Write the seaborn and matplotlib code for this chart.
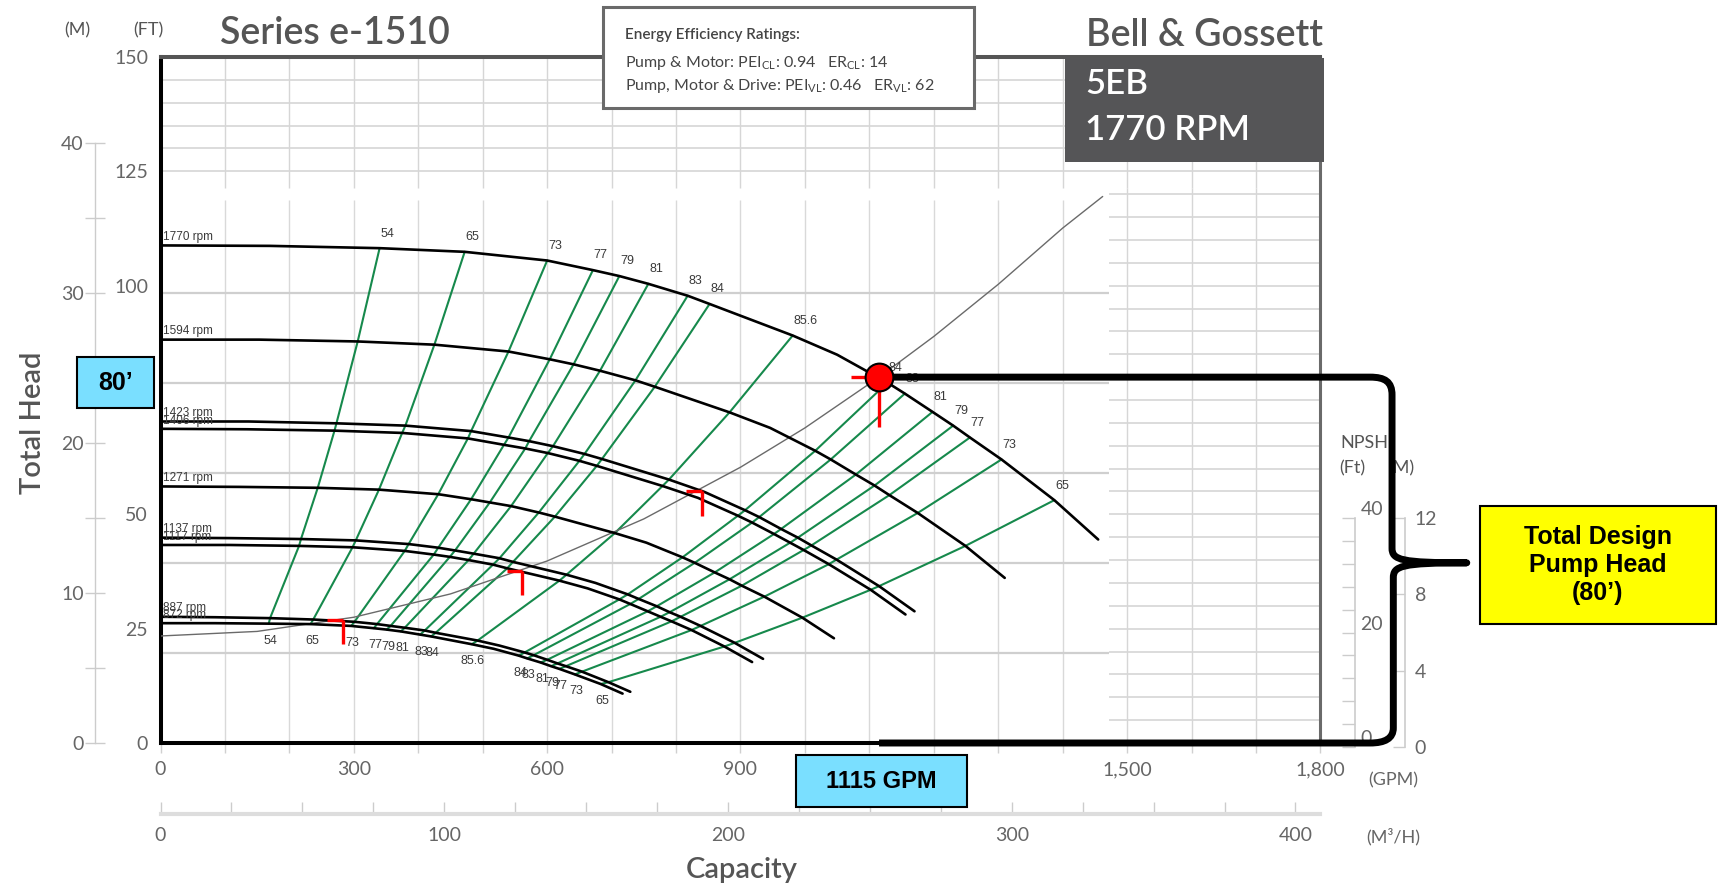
import numpy as np
import pandas as pd
import matplotlib
matplotlib.use("Agg")
import matplotlib.pyplot as plt
import seaborn as sns
from matplotlib.path import Path
from matplotlib.patches import PathPatch, Rectangle
from matplotlib import font_manager as fm
from matplotlib.ticker import FixedLocator

# ---------------- data ----------------
speeds = [1770, 1594, 1423, 1406, 1271, 1137, 1117, 887, 872]

gpm_1770 = [0, 170, 340, 472, 600, 671, 712, 757, 818, 852, 981, 1050, 1128, 1155, 1198, 1230, 1256, 1305, 1387, 1455]
ft_1770 = [108.8, 108.7, 108.2, 107.4, 105.5, 103.4, 102.1, 100.4, 97.8, 96.0, 89.1, 84.9, 78.8, 76.4, 72.4, 69.4, 66.8, 62.0, 53.1, 44.5]
gpm_1594 = [0, 153, 306, 425, 540, 604, 641, 682, 737, 767, 883, 946, 1016, 1040, 1079, 1108, 1131, 1175, 1249, 1310]
ft_1594 = [88.2, 88.2, 87.8, 87.1, 85.6, 83.9, 82.8, 81.4, 79.3, 77.9, 72.3, 68.9, 63.9, 62.0, 58.7, 56.3, 54.2, 50.3, 43.1, 36.1]
gpm_1423 = [0, 137, 273, 380, 482, 540, 572, 609, 658, 685, 789, 844, 907, 929, 963, 989, 1010, 1049, 1115, 1170]
ft_1423 = [70.3, 70.3, 69.9, 69.4, 68.2, 66.8, 66.0, 64.9, 63.2, 62.1, 57.6, 54.9, 50.9, 49.4, 46.8, 44.9, 43.2, 40.1, 34.3, 28.8]
gpm_1406 = [0, 135, 270, 375, 477, 533, 566, 601, 650, 677, 779, 834, 896, 918, 952, 977, 998, 1037, 1102, 1156]
ft_1406 = [68.7, 68.6, 68.3, 67.8, 66.6, 65.2, 64.4, 63.4, 61.7, 60.6, 56.2, 53.6, 49.7, 48.2, 45.7, 43.8, 42.2, 39.1, 33.5, 28.1]
gpm_1271 = [0, 122, 244, 339, 431, 482, 511, 544, 587, 612, 705, 754, 810, 829, 860, 883, 902, 937, 996, 1045]
ft_1271 = [56.1, 56.0, 55.8, 55.4, 54.4, 53.3, 52.6, 51.8, 50.4, 49.5, 45.9, 43.8, 40.6, 39.4, 37.3, 35.8, 34.4, 32.0, 27.4, 22.9]
gpm_1137 = [0, 109, 218, 303, 385, 431, 457, 486, 526, 547, 630, 675, 725, 742, 770, 790, 807, 838, 891, 935]
ft_1137 = [44.9, 44.8, 44.6, 44.3, 43.5, 42.7, 42.1, 41.4, 40.4, 39.6, 36.8, 35.0, 32.5, 31.5, 29.9, 28.6, 27.6, 25.6, 21.9, 18.4]
gpm_1117 = [0, 107, 215, 298, 379, 424, 449, 478, 516, 538, 619, 663, 712, 729, 756, 776, 793, 824, 875, 918]
ft_1117 = [43.3, 43.3, 43.1, 42.8, 42.0, 41.2, 40.7, 40.0, 39.0, 38.2, 35.5, 33.8, 31.4, 30.4, 28.8, 27.6, 26.6, 24.7, 21.1, 17.7]
gpm_887 = [0, 85, 170, 237, 301, 336, 357, 379, 410, 427, 492, 526, 565, 579, 600, 616, 629, 654, 695, 729]
ft_887 = [27.6, 27.5, 27.3, 27.0, 26.5, 26.0, 25.6, 25.2, 24.6, 24.1, 22.4, 21.3, 19.8, 19.2, 18.2, 17.4, 16.8, 15.6, 13.3, 11.2]
gpm_872 = [0, 84, 168, 233, 296, 331, 351, 373, 403, 420, 483, 517, 556, 569, 590, 606, 619, 643, 683, 717]
ft_872 = [26.2, 26.2, 26.1, 26.0, 25.6, 25.1, 24.8, 24.4, 23.7, 23.3, 21.6, 20.6, 19.1, 18.5, 17.6, 16.8, 16.2, 15.0, 12.9, 10.8]

# points on each speed curve that belong to an iso-efficiency line
eff_left_idx = [2, 3, 4, 5, 6, 7, 8, 9, 10]
eff_left_labels = ["54", "65", "73", "77", "79", "81", "83", "84", "85.6"]
eff_right_idx = [12, 13, 14, 15, 16, 17, 18]
eff_right_labels = ["84", "83", "81", "79", "77", "73", "65"]

# system curve
sys_gpm = [0, 150, 300, 450, 600, 750, 900, 1000, 1115, 1200, 1300, 1400, 1462]
sys_ft = [23.4, 24.4, 27.5, 32.6, 39.8, 49.0, 60.3, 68.9, 80.0, 88.9, 100.3, 112.6, 119.5]

# operating points on the system curve
op_gpm = [1115, 840, 561, 283]
op_ft = [80.0, 55.0, 37.6, 26.9]
design_gpm = 1115
design_ft = 80

# axis ticks
ft_ticks = [0, 25, 50, 75, 100, 125, 150]
gpm_ticks = [0, 300, 600, 900, 1200, 1500, 1800]
gpm_labels = ["0", "300", "600", "900", "1,200", "1,500", "1,800"]
m_ticks = [0, 10, 20, 30, 40]
m3h_ticks = [0, 100, 200, 300, 400]
npsh_ft_ticks = [0, 20, 40]
npsh_m_ticks = [0, 4, 8, 12]

# ---------------- styling ----------------
sns.set_theme(style="white")
plt.rcParams['font.family'] = ['Lato', 'DejaVu Sans']
names = {f.name for f in fm.fontManager.ttflist}
NARROW = 'Liberation Sans Narrow' if 'Liberation Sans Narrow' in names else 'Liberation Sans'
ARIAL = 'Liberation Sans'
GRAY_TXT = '#666666'
DARK_TXT = '#555555'
GREEN = '#16894c'
LBL = '#3a3a3a'

W, H = 1724, 893
fig = plt.figure(figsize=(W / 100, H / 100), dpi=100)

# main axes: GPM 0..1800 -> px 160.5..1320.5 ; ft 0..150 -> px 743..57
x0, x1, y0, y1 = 160.5, 1320.5, 743.0, 57.0
ax = fig.add_axes([x0 / W, (H - y0) / H, (x1 - x0) / W, (y0 - y1) / H], zorder=2)
ax.set_xlim(0, 1800)
ax.set_ylim(0, 150)

# ---- grids ----
pump_top = 118.7
tmpl_bot = 121.4
grid_c = '#d6d6d6'
ax.vlines(np.arange(100, 1500, 100), 0, pump_top, color='#d9d9d9', lw=1.0, zorder=0)
ax.hlines(np.arange(1, 6) * 19.685, 0, 1472, color='#cfcfcf', lw=1.6, zorder=0)
ax.vlines(np.arange(100, 1800, 100), tmpl_bot, 150, color=grid_c, lw=1.0, zorder=0)
ax.vlines([1500, 1600, 1700], 0, tmpl_bot, color=grid_c, lw=1.0, zorder=0)
ax.hlines(np.arange(125, 150, 5), 0, 1800, color=grid_c, lw=1.2, zorder=0)
ax.hlines(np.arange(5, 125, 5), 1472, 1800, color=grid_c, lw=1.2, zorder=0)

# ---- pump curves ----
curve_lists = [(1770, gpm_1770, ft_1770), (1594, gpm_1594, ft_1594), (1423, gpm_1423, ft_1423),
               (1406, gpm_1406, ft_1406), (1271, gpm_1271, ft_1271), (1137, gpm_1137, ft_1137),
               (1117, gpm_1117, ft_1117), (887, gpm_887, ft_887), (872, gpm_872, ft_872)]
rows = []
for rpm, g, h in curve_lists:
    for i, (q, y) in enumerate(zip(g, h)):
        rows.append((rpm, i, q, y))
df = pd.DataFrame(rows, columns=['rpm', 'pt', 'gpm', 'ft'])

eff = df[df['pt'].isin(eff_left_idx + eff_right_idx)]
sns.lineplot(data=eff, x='gpm', y='ft', units='pt', estimator=None, sort=False,
             color=GREEN, lw=1.5, ax=ax, legend=False, zorder=3)
sns.lineplot(data=df, x='gpm', y='ft', units='rpm', estimator=None, sort=False,
             color='black', lw=1.9, ax=ax, legend=False, zorder=4)
sys_df = pd.DataFrame({'gpm': sys_gpm, 'ft': sys_ft})
sns.lineplot(data=sys_df, x='gpm', y='ft', estimator=None, sort=False,
             color='#6a6a6a', lw=1.0, ax=ax, legend=False, zorder=3.5)
ax.set_xlabel('')
ax.set_ylabel('')

# rpm labels
for rpm, g, h in curve_lists:
    ax.text(g[0] + 4, h[0] + 0.5, f"{rpm} rpm", fontsize=8.5, family=[NARROW, 'DejaVu Sans'],
            color=LBL, ha='left', va='bottom', zorder=5)

# efficiency labels (top along 1770 curve, bottom below 872 curve)
top_g, top_h = gpm_1770, ft_1770
bot_g, bot_h = gpm_872, ft_872
for idx, lab in zip(eff_left_idx + eff_right_idx, eff_left_labels + eff_right_labels):
    dx = 20 if lab == "85.6" else 12
    ax.text(top_g[idx] + dx, top_h[idx] + 3.2, lab, fontsize=9, family=[NARROW, 'DejaVu Sans'],
            color=LBL, ha='center', va='center', zorder=5)
    ax.text(bot_g[idx] + 2, bot_h[idx] - 3.7, lab, fontsize=9, family=[NARROW, 'DejaVu Sans'],
            color=LBL, ha='center', va='center', zorder=5)

# operating point markers
for i, (q, y) in enumerate(zip(op_gpm, op_ft)):
    hx, vy = (43, 11) if i == 0 else (24, 5.3)
    ax.plot([q - hx, q], [y, y], color='red', lw=2.4, solid_capstyle='butt', zorder=6)
    ax.plot([q, q], [y, y - vy], color='red', lw=2.4, solid_capstyle='butt', zorder=6)

# brace from design point
M, L, C = Path.MOVETO, Path.LINETO, Path.CURVE4
verts = [(design_gpm, design_ft), (1877, 80), (1900, 80), (1911, 79), (1911, 76.1), (1911, 42.6),
         (1911, 40.0), (1925, 39.4), (2027, 39.4), (1925, 39.4), (1913, 38.7), (1913, 36.1),
         (1913, 3.3), (1913, 1.0), (1900, 0), (1877, 0), (design_gpm, 0)]
codes = [M, L, C, C, C, L, C, C, C, C, C, C, L, C, C, C, L]
ax.add_patch(PathPatch(Path(verts, codes), fill=False, lw=5, edgecolor='black',
                       clip_on=False, zorder=7, joinstyle='round', capstyle='butt'))

sns.scatterplot(x=[design_gpm], y=[design_ft], s=400, color='red', edgecolor='black',
                linewidth=1.5, ax=ax, zorder=10, legend=False)

# ---- spines / ticks ----
for s in ['left', 'bottom']:
    ax.spines[s].set_color('black')
    ax.spines[s].set_linewidth(2.9)
ax.spines['top'].set_color('#555555')
ax.spines['top'].set_linewidth(2.9)
ax.spines['right'].set_color('#6a6a6a')
ax.spines['right'].set_linewidth(2.2)

ax.set_yticks(ft_ticks)
ax.set_yticklabels([str(t) for t in ft_ticks])
ax.tick_params(axis='y', length=0, pad=9, labelsize=14, labelcolor=GRAY_TXT)
ax.set_xticks(gpm_ticks)
ax.set_xticklabels(gpm_labels)
ax.xaxis.set_minor_locator(FixedLocator(list(range(100, 1800, 100))))
ax.tick_params(axis='x', which='both', direction='out', length=7, color='#d0d0d0', width=1,
               labelsize=14, labelcolor=GRAY_TXT, pad=6, bottom=True)

# metric head scale (left)
mx = ax.secondary_yaxis(-0.0565, functions=(lambda f: f / 3.28084, lambda m: m * 3.28084))
mx.set_yticks(m_ticks)
mx.set_yticklabels([str(t) for t in m_ticks])
mx.yaxis.set_minor_locator(FixedLocator([5, 15, 25, 35]))
mx.tick_params(which='both', direction='inout', length=14, color='#cccccc', width=1,
               labelsize=14, labelcolor=GRAY_TXT, pad=1)
mx.spines['left'].set_color('#cccccc')
mx.spines['left'].set_linewidth(1)
mx.spines['left'].set_bounds(0, 40)

# m3/h scale (bottom)
m3 = ax.secondary_xaxis(-0.1035, functions=(lambda g: g / 4.4029, lambda m: m * 4.4029))
m3.set_xticks(m3h_ticks)
m3.set_xticklabels([str(t) for t in m3h_ticks])
m3.xaxis.set_minor_locator(FixedLocator(list(range(25, 425, 25))))
m3.tick_params(which='both', direction='in', length=9, color='#cccccc', width=1,
               labelsize=14, labelcolor=GRAY_TXT, pad=9)
m3.spines['bottom'].set_color('#dddddd')
m3.spines['bottom'].set_linewidth(3)

# ---- NPSHr scales ----
def px_axes(left, right, top, bottom, z=1):
    a = fig.add_axes([left / W, (H - bottom) / H, (right - left) / W, (bottom - top) / H], zorder=z)
    a.set_facecolor('none')
    for s in ['left', 'top', 'bottom']:
        a.spines[s].set_visible(False)
    a.spines['right'].set_color('#cccccc')
    a.spines['right'].set_linewidth(1.2)
    a.set_xticks([])
    a.yaxis.tick_right()
    return a

nft = px_axes(1345, 1355, 518.3, 746.7)
nft.set_ylim(0, 40)
nft.set_yticks(npsh_ft_ticks)
nft.set_yticklabels([str(t) for t in npsh_ft_ticks])
nft.yaxis.set_minor_locator(FixedLocator(list(range(4, 40, 4))))
nft.tick_params(which='both', direction='in', length=9.5, color='#cccccc', width=1,
                labelsize=14, labelcolor=GRAY_TXT, pad=4)
for t in nft.get_yticklabels():
    t.set_va('bottom')

nm = px_axes(1395, 1405, 518.3, 746.7)
nm.set_ylim(0, 12)
nm.set_yticks(npsh_m_ticks)
nm.set_yticklabels([str(t) for t in npsh_m_ticks])
nm.tick_params(which='both', direction='in', length=9, color='#cccccc', width=1,
               labelsize=14, labelcolor=GRAY_TXT, pad=7)

fig.text(1340 / W, 1 - 443 / H, "NPSHr", fontsize=13, color=DARK_TXT, ha='left', va='center', zorder=1)
fig.text(1352 / W, 1 - 468 / H, "(Ft)", fontsize=13, color=DARK_TXT, ha='center', va='center', zorder=1)
fig.text(1401 / W, 1 - 468 / H, "(M)", fontsize=13, color=DARK_TXT, ha='center', va='center', zorder=1)

# ---- overlay (pixel coordinates) for titles and boxes ----
ov = fig.add_axes([0, 0, 1, 1], zorder=3)
ov.set_xlim(0, W)
ov.set_ylim(H, 0)
ov.axis('off')

ov.text(220, 33, "Series e-1510", fontsize=27, color=DARK_TXT, ha='left', va='center', fontweight='semibold')
ov.text(1323, 35, "Bell & Gossett", fontsize=27, color=DARK_TXT, ha='right', va='center', fontweight='semibold')
ov.text(77, 30, "(M)", fontsize=13, color=DARK_TXT, ha='center', va='center')
ov.text(148, 30, "(FT)", fontsize=13, color=DARK_TXT, ha='center', va='center')

# energy box
ov.add_patch(Rectangle((603, 7), 371, 101, facecolor='white', edgecolor='#6a6a6a', lw=2.2))
ov.text(625, 35, "Energy Efficiency Ratings:", fontsize=11, color='#444444', ha='left', va='center',
        fontweight='semibold')
ov.text(625, 63, r"Pump & Motor: PEI$_{\mathregular{CL}}$: 0.94   ER$_{\mathregular{CL}}$: 14",
        fontsize=11.5, color='#444444', ha='left', va='center')
ov.text(625, 86, r"Pump, Motor & Drive: PEI$_{\mathregular{VL}}$: 0.46   ER$_{\mathregular{VL}}$: 62",
        fontsize=11.5, color='#444444', ha='left', va='center')

# model box
ov.add_patch(Rectangle((1065, 58), 259, 104, facecolor='#555557', edgecolor='none'))
ov.text(1085, 84, "5EB", fontsize=25, color='white', ha='left', va='center', fontweight='semibold')
ov.text(1085, 130, "1770 RPM", fontsize=25, color='white', ha='left', va='center', fontweight='semibold')

# axis titles
ov.text(33, 423, "Total Head", fontsize=21, color=DARK_TXT, rotation=90, ha='center', va='center',
        fontweight='semibold')
ov.text(742, 870, "Capacity", fontsize=21, color=DARK_TXT, ha='center', va='center', fontweight='semibold')
ov.text(1393, 780, "(GPM)", fontsize=13, color=GRAY_TXT, ha='center', va='center')
ov.text(1393, 837, "(M\u00b3/H)", fontsize=13, color=GRAY_TXT, ha='center', va='center')

# callout boxes
ov.add_patch(Rectangle((77, 357), 77, 51, facecolor='#7adfff', edgecolor='black', lw=1.5))
ov.text(115.5, 383, "80\u2019", fontsize=18, fontweight='bold', family=[ARIAL, 'DejaVu Sans'],
        ha='center', va='center', color='black')
ov.add_patch(Rectangle((796, 755), 171, 52, facecolor='#7adfff', edgecolor='black', lw=1.5))
ov.text(881.5, 782, "1115 GPM", fontsize=17, fontweight='bold', family=[ARIAL, 'DejaVu Sans'],
        ha='center', va='center', color='black')
ov.add_patch(Rectangle((1480, 506), 236, 118, facecolor='#ffff00', edgecolor='black', lw=1.5))
ov.text(1598, 565, "Total Design\nPump Head\n(80\u2019)", fontsize=18, fontweight='bold',
        family=[ARIAL, 'DejaVu Sans'], ha='center', va='center', color='black', linespacing=1.2)

fig.savefig("out.png", dpi=100)
